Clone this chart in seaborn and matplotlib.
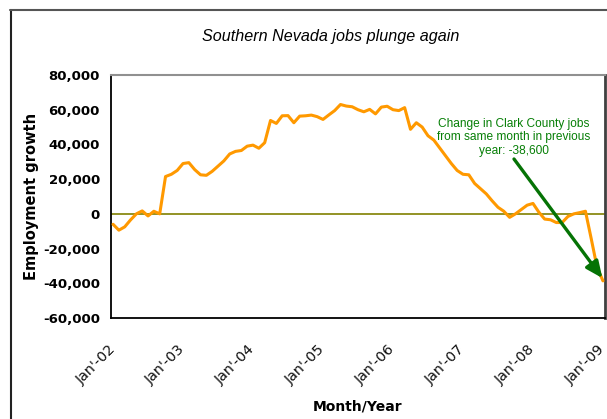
import numpy as np
import pandas as pd
import matplotlib
matplotlib.use("Agg")
import matplotlib.pyplot as plt
from matplotlib.lines import Line2D
import seaborn as sns

# ---- data (monthly, Jan 2002 .. Jan 2009) ----
job_change = [
    -6000, -9400, -7500, -3500, 0, 1700, -1200, 1500, 0, 21500,
    22800, 25000, 29000, 29500, 25500, 22500, 22200, 24500, 27500, 30500,
    34500, 36000, 36500, 39000, 39600, 37800, 41000, 53800, 52100, 56500,
    56600, 52500, 56300, 56500, 56900, 56000, 54400, 57000, 59500, 63000,
    62100, 61700, 60000, 58800, 60200, 57600, 61500, 62000, 60000, 59500,
    61200, 48700, 52500, 50000, 45000, 42500, 38000, 33500, 29000, 25000,
    22800, 22500, 17500, 14500, 11500, 7500, 3800, 1500, -2000, 0,
    2500, 5000, 6000, 1000, -3000, -3400, -5000, -5000, -1500, 0,
    700, 1500, -14500, -31000, -38600,
]
tick_labels = ["Jan'-02", "Jan'-03", "Jan'-04", "Jan'-05", "Jan'-06",
               "Jan'-07", "Jan'-08", "Jan'-09"]
y_ticks = [-60000, -40000, -20000, 0, 20000, 40000, 60000, 80000]

df = pd.DataFrame({"month": np.arange(len(job_change)), "change": job_change})

sns.set_style("white")
plt.rcParams["font.family"] = ["DejaVu Sans"]
plt.rcParams["text.color"] = "black"
plt.rcParams["axes.labelcolor"] = "black"
plt.rcParams["xtick.color"] = "black"
plt.rcParams["ytick.color"] = "black"

fig = plt.figure(figsize=(6.07, 4.19), dpi=100)
ax = fig.add_axes([111 / 607, 1 - 318 / 419, (605 - 111) / 607, (318 - 75) / 419])

ax.axhline(0, color="#808000", lw=1.2, zorder=1)
sns.lineplot(data=df, x="month", y="change", ax=ax, color="#FF9900", lw=2.2, zorder=3)

ax.set_xlim(-0.35, len(job_change) - 1 + 0.35)
ax.set_ylim(y_ticks[0], y_ticks[-1])
ax.set_yticks(y_ticks)
ax.set_yticklabels([f"{v:,}" for v in y_ticks], fontsize=9.5, fontweight="bold")
ax.set_xticks(np.arange(0, len(job_change), 12))
ax.set_xticklabels(tick_labels, fontsize=10.3, rotation=45, ha="right", va="center",
                   rotation_mode="anchor", color="#111111")
ax.tick_params(axis="x", length=0, pad=21)
ax.tick_params(axis="y", length=5, width=1, direction="out", color="black", pad=3)

for side in ["left", "bottom"]:
    ax.spines[side].set_color("black")
    ax.spines[side].set_linewidth(1.3)
ax.spines["top"].set_color("#909090")
ax.spines["top"].set_linewidth(1.5)
ax.spines["right"].set_color("#404040")
ax.spines["right"].set_linewidth(2)

ax.set_xlabel("Month/Year", fontsize=10, fontweight="bold", labelpad=9)
ax.set_ylabel("Employment growth", fontsize=10.5, fontweight="bold", labelpad=3)

fig.text(331 / 607, 1 - 36 / 419, "Southern Nevada jobs plunge again",
         fontsize=11.6, style="italic", family="Liberation Sans",
         ha="center", va="center", color="black")

# annotation
ax.annotate("", xy=(83.9, -37000), xytext=(68.75, 31600),
            arrowprops=dict(arrowstyle="-|>,head_length=1.0,head_width=0.45",
                            color="#057305", lw=2.4, shrinkA=0, shrinkB=0),
            zorder=4)
ax.text(68.7, 44000, "Change in Clark County jobs\nfrom same month in previous\nyear: -38,600",
        ha="center", va="center", color="#067F06", fontsize=8.6,
        family="Liberation Sans", linespacing=1.22)

# outer chart border
fig.add_artist(Line2D([10.5 / 607, 10.5 / 607], [0, 1 - 10 / 419], color="#222222", lw=1.5))
fig.add_artist(Line2D([10 / 607, 1], [1 - 10.5 / 419, 1 - 10.5 / 419], color="#555555", lw=1.5))

fig.savefig("out.png", dpi=100)
